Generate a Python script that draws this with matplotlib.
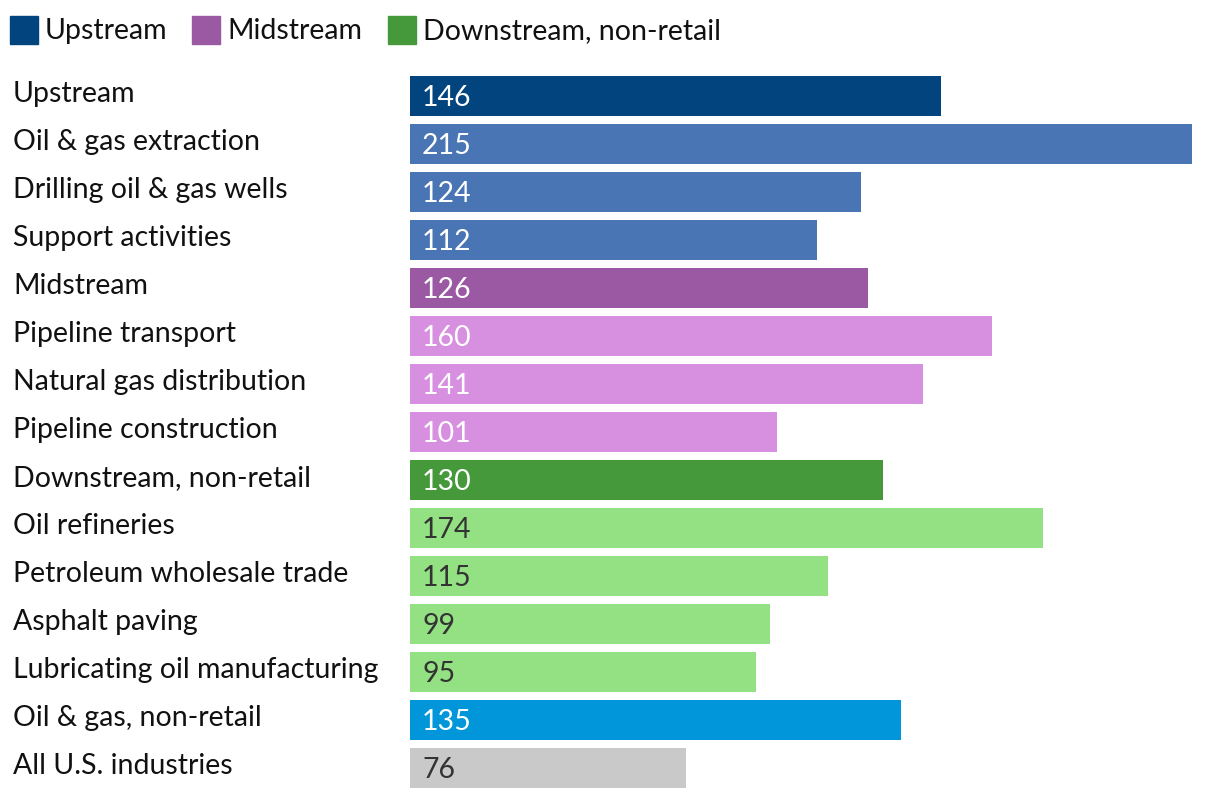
import matplotlib
matplotlib.use("Agg")
import matplotlib.pyplot as plt
from matplotlib.patches import Rectangle
from matplotlib.transforms import blended_transform_factory, offset_copy

categories = ["Upstream", "Oil & gas extraction", "Drilling oil & gas wells", "Support activities",
              "Midstream", "Pipeline transport", "Natural gas distribution", "Pipeline construction",
              "Downstream, non-retail", "Oil refineries", "Petroleum wholesale trade", "Asphalt paving",
              "Lubricating oil manufacturing", "Oil & gas, non-retail", "All U.S. industries"]
values = [146, 215, 124, 112, 126, 160, 141, 101, 130, 174, 115, 99, 95, 135, 76]
bar_colors = ["#02457E", "#4A75B4", "#4A75B4", "#4A75B4",
              "#9B59A4", "#D690DF", "#D690DF", "#D690DF",
              "#45993B", "#93E182", "#93E182", "#93E182", "#93E182",
              "#0096D9", "#C8C9C8"]
label_colors = ["white"] * 9 + ["#333333"] * 4 + ["white", "#333333"]
legend_labels = ["Upstream", "Midstream", "Downstream, non-retail"]
legend_colors = ["#02457E", "#9B59A4", "#45993B"]

FONT = "Lato"
FS = 20.5
W, H = 1220, 798
fig = plt.figure(figsize=(W / 100, H / 100), dpi=100)
ax = fig.add_axes([410 / W, (H - 792) / H, (1192 - 410) / W, (792 - 72) / H])
y = list(range(len(categories)))
ax.barh(y, values, height=40 / 48, color=bar_colors, edgecolor="none")
ax.set_xlim(0, 215)
ax.set_ylim(len(categories) - 0.5, -0.5)
ax.axis("off")

for i, (v, c) in enumerate(zip(values, label_colors)):
    t = offset_copy(ax.transData, fig=fig, x=12, y=-10, units="dots")
    ax.text(0, i, str(v), transform=t, ha="left", va="baseline", color=c,
            fontsize=FS, family=FONT)

bt = blended_transform_factory(fig.transFigure, ax.transData)
bt = offset_copy(bt, fig=fig, x=0, y=-6, units="dots")
for i, cat in enumerate(categories):
    ax.text(13 / W, i, cat, transform=bt, ha="left", va="baseline", color="#111111",
            fontsize=FS, family=FONT)

leg_x = [10, 192, 388]
for lx, lab, col in zip(leg_x, legend_labels, legend_colors):
    fig.patches.append(Rectangle((lx / W, (H - 44) / H), 28 / W, 28 / H,
                                 transform=fig.transFigure, color=col))
    fig.text((lx + 35) / W, (H - 39) / H, lab, ha="left", va="baseline",
             color="#111111", fontsize=FS, family=FONT)

fig.savefig("out.png", dpi=100)
